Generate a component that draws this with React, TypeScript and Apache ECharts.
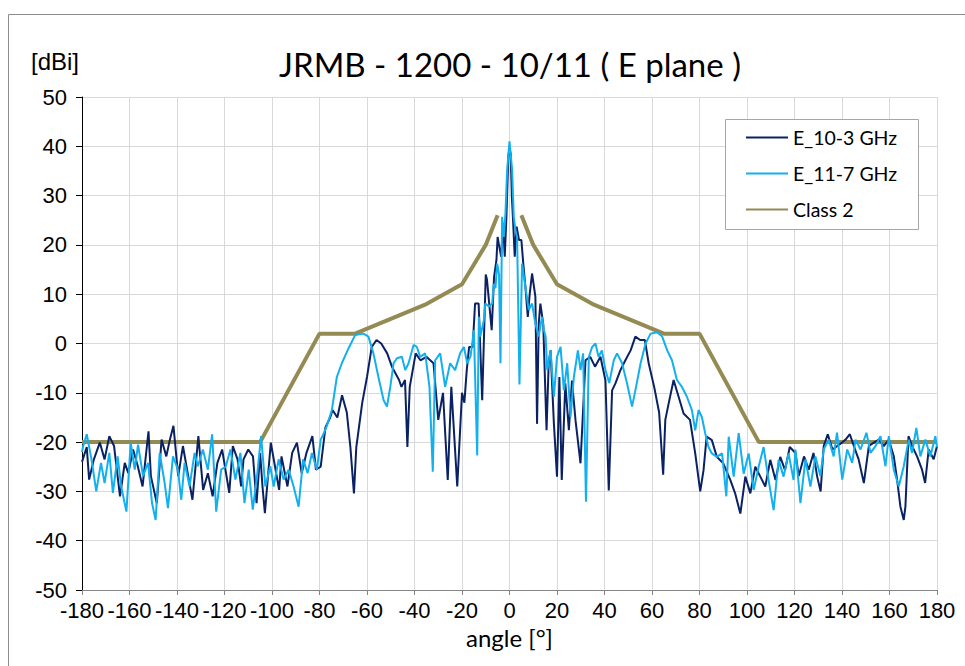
import React, { useEffect, useRef } from "react";
import * as echarts from "echarts";

// Class 2 envelope (angle °, gain dBi)
const class2: [number, number][] = [
  [-180, -20], [-105, -20], [-80, 2], [-65, 2], [-50, 5], [-35, 8], [-20, 12], [-10, 20], [-5, 26],
  [null as any, null as any],
  [5, 26], [10, 20], [20, 12], [35, 8], [50, 5], [65, 2], [80, 2], [105, -20], [180, -20],
];

// E_10-3 GHz measured pattern (angle °, gain dBi)
const e10: [number, number][] = [
  [-180, -24], [-178, -21], [-177, -27.6], [-175, -23.5], [-172.5, -20.1], [-170.5, -23.5], [-168.5, -18.8],
  [-166.5, -20.8], [-164, -31], [-162, -24.2], [-160.5, -26.3], [-158.5, -21.5], [-156.5, -24.9], [-154.5, -29],
  [-152, -17.8], [-151, -26.9], [-148.5, -32.4], [-146.5, -19.5], [-144.5, -22.9], [-143, -19.5], [-141.5, -16.7],
  [-139.5, -26.9], [-137.5, -20.8], [-135.5, -26.3], [-133.5, -31.7], [-131, -18.8], [-129, -29.7], [-127, -26.3],
  [-125, -31], [-123, -24.2], [-121, -21.5], [-118, -30.3], [-116.5, -20.8], [-114.5, -23.5], [-113, -29],
  [-112, -23.5], [-110, -21.5], [-108, -22.9], [-106.5, -32.4], [-105, -22.2], [-104, -29], [-103, -34.4],
  [-100.5, -20.1], [-98.5, -25.6], [-97, -29.7], [-96, -22.9], [-93.5, -29], [-91.5, -22.2], [-89.5, -20.1],
  [-87.5, -26.3], [-85.5, -22.2], [-83, -18.8], [-81.5, -25.6], [-79.5, -25], [-77.5, -17], [-75.5, -15],
  [-74.5, -13.5], [-72.5, -15], [-70.5, -10.5], [-68.5, -14], [-67, -21], [-65.5, -30.4], [-64.5, -21],
  [-62, -12], [-60, -6.8], [-58, -0.7], [-56, 0.7], [-54, 0], [-51.5, -2], [-49.5, -4.7], [-46.5, -7.4],
  [-45.5, -8.8], [-44, -7.4], [-43, -21], [-42, -8.8], [-39.5, -2], [-37.5, -3.4], [-35, -2.7], [-32, -4],
  [-30, -15.5], [-28, -10], [-26, -27.7], [-24.5, -8.8], [-22, -29], [-20, -10], [-19, -12], [-18, -5.4],
  [-17, -0.7], [-15.5, -0.7], [-14.5, 8.1], [-13, 8.1], [-11.5, -11.5], [-10, 14], [-9.5, 13], [-7.5, 2.7],
  [-6.5, 13.5], [-5.5, 16.9], [-5, 21.6], [-4.5, 20.2], [-3.5, 17.6], [-2.7, 24.4], [-2, 17.6], [-1.3, 25.7],
  [-0.5, 38], [0, 39.5], [0.5, 38.5], [1, 29.7], [1.5, 25], [2.2, 17.6], [3, 23.7], [4, 21], [5, 21],
  [5.8, 16.2], [6.7, 11.5], [7.7, 5.4], [8.5, 10], [9.5, 14.2], [10.9, 9.5], [11.6, -16.3], [12.3, 4],
  [13, 8.1], [14.2, 4], [15.6, -17.6], [16.5, -4], [17.3, -1.4], [18.7, -16.3], [20, -27], [21, -6.8],
  [22, -27.7], [23.5, -8.1], [25, -17.6], [26.3, -7.5], [27.8, -15.6], [29.9, -24.3], [32, -3.4], [34, -2.7],
  [36, -4.7], [38.3, -2.7], [40.4, -7.5], [41.8, -29.8], [43.2, -9.5], [44.6, -8.1], [46.7, -5.4], [48.8, -3.4],
  [51, -1.4], [53, 1.4], [55, 0.7], [57, 0.7], [58.6, -4], [61, -9], [63, -14], [64.7, -26.6], [65.6, -15.5],
  [67, -12.2], [69.1, -7.4], [71.2, -10.8], [73.3, -14.2], [76, -15.5], [78.2, -22.3], [80.3, -30], [81.7, -25.7],
  [83, -18.9], [85.2, -19.6], [87.3, -23], [90, -24.3], [93, -27.7], [95, -30.4], [97.2, -34.5], [99.3, -27],
  [101.4, -30.4], [103.5, -25], [105.6, -27], [107.7, -29], [109.8, -23.6], [112, -27.7], [114, -23], [116, -25.7],
  [118, -21], [120.4, -22.2], [121.8, -26.9], [124, -22.9], [126, -25.6], [128, -22.2], [129.5, -26.9], [131, -30],
  [132.3, -20.8], [134, -18.4], [136, -21.5], [138, -20.8], [140, -20.1], [141.5, -19.5], [143.3, -18.4],
  [145, -20.8], [147, -23.5], [149.2, -28.3], [151.3, -20.8], [153.4, -20.1], [155.5, -19.5], [157.6, -20.8],
  [159.7, -19.5], [161.8, -22.9], [163.2, -27.6], [164.6, -33.1], [166, -35.8], [166.7, -33.1], [168, -18.8],
  [169.5, -20.8], [171.6, -22.9], [173.7, -25.6], [175, -28.3], [176.5, -21.5], [178.6, -23.5], [180, -20.8],
];

// E_11-7 GHz measured pattern (angle °, gain dBi)
const e11: [number, number][] = [
  [-180, -22], [-179.5, -20.8], [-178, -18.4], [-176, -23.5], [-174, -30], [-172, -24.2], [-170.5, -28.3],
  [-168.5, -22.2], [-167, -30.3], [-165, -22.9], [-163.5, -29], [-161.3, -34.1], [-159.5, -20.1], [-157.8, -25.6],
  [-156.4, -20.5], [-154.3, -26.9], [-152.2, -24.2], [-150.5, -32.4], [-149, -35.8], [-147.3, -22.2],
  [-145.2, -28.3], [-143.8, -33.4], [-141.7, -22.9], [-139.6, -25.6], [-138.2, -31.7], [-136.8, -24.2],
  [-134.7, -29], [-132.6, -22.2], [-131.2, -24.9], [-129.1, -21.5], [-127, -25.6], [-125.2, -18.4],
  [-123.5, -34.1], [-121.4, -25.6], [-119.5, -25], [-117.5, -21.5], [-115.4, -27.6], [-113.3, -22.2],
  [-111.6, -32.4], [-109.8, -25.6], [-108.1, -33.7], [-106.3, -26.9], [-104.6, -18.8], [-102.8, -29],
  [-100.7, -24.9], [-99.3, -29], [-97.2, -23.5], [-95.1, -27.6], [-93, -25.6], [-90.9, -29], [-88.8, -33.1],
  [-86.9, -23.5], [-85, -26.3], [-83.2, -22.2], [-81.1, -25.6], [-79.5, -19.5], [-78, -18], [-76.9, -16.7],
  [-74.8, -13.5], [-72.7, -6.8], [-70.6, -4], [-67.8, -1], [-65, 1.7], [-61.5, 2], [-59.4, 1.4], [-57.3, -2],
  [-55.2, -6.8], [-53, -11.5], [-51.6, -12.8], [-50.2, -8.8], [-48.8, -4], [-47.4, -3], [-45.3, -2.7],
  [-43.9, -5.4], [-42.5, -4], [-40.4, -0.3], [-39, -0.7], [-37.6, -2.7], [-35.5, -2], [-33.7, -8.8],
  [-32.3, -26], [-31.3, -3.4], [-29.2, -2], [-27.1, -8.8], [-25, -4], [-22.9, -5.4], [-20.8, -2],
  [-19.2, -0.7], [-17.8, -4], [-16.4, -2.6], [-15, 2.7], [-13.6, -22.7], [-12.9, 5.4], [-12.3, 1.4],
  [-10.8, 4.7], [-10.2, 8.1], [-8.7, 7.5], [-7.3, 8.1], [-6.6, 12.1], [-5.9, 11.2], [-5.2, 16.2], [-4.4, 14],
  [-3.8, -4], [-3.1, 25.7], [-2.4, 21.6], [-1.7, 26.4], [-1, 35.2], [0, 41], [1.1, 35.2], [1.8, 25.7],
  [2.5, 23], [3.2, 21.6], [4.2, -8.3], [5.3, 16.2], [6.7, 11.5], [8.1, 6.8], [9.5, 8.1], [10.9, 4],
  [12.3, 1.4], [13.7, 5.4], [14.5, 2.7], [15.2, 1.4], [15.9, -5.4], [17.3, -1.4], [18.7, -10.8], [20, -2.7],
  [21.5, -0.7], [22.9, -9.5], [24.3, -4], [25.7, -14.9], [27.1, -6.8], [28.8, -1.4], [29.9, -5.4], [31, -2],
  [32.2, -32.1], [33.4, -2.7], [34.8, -0.7], [36.2, 0], [37.5, -2.7], [38.9, -1.4], [40.4, -5.4], [42, -8],
  [43.9, -3.4], [45.3, -2], [47.4, -4], [49.5, -8.1], [51.6, -12.8], [53, -9.5], [55.2, -4], [57.3, 0],
  [59.4, 2], [62.2, 2.3], [64.3, 1.4], [66.4, -1.4], [68.4, -3.4], [70.5, -7.4], [72.6, -8.8], [74.7, -10.8],
  [76.8, -13.5], [78.2, -17.6], [79.6, -13.5], [81, -14.9], [82.4, -18.2], [83.8, -21], [85.2, -22.3],
  [87.3, -23], [89.5, -22.3], [91.3, -31], [92.3, -18.9], [94.4, -27], [96.5, -18.2], [98.6, -26.4],
  [100.7, -22.3], [102.8, -29.7], [104.9, -25], [107, -21], [109.1, -27.7], [111.2, -33.8], [113.3, -23.6],
  [115.4, -27], [117.5, -22.3], [119.6, -27.7], [120.4, -21.5], [122.5, -32.4], [124.6, -23.5], [126.7, -29],
  [128.8, -22.9], [130.9, -26.9], [132.3, -21.5], [134.4, -19.5], [136.5, -22.9], [137.9, -18.1],
  [140.1, -27.6], [142.2, -21.5], [144.3, -24.2], [145.7, -19.5], [147.8, -21.5], [150.3, -18.1], [152, -22.2],
  [154.1, -20.8], [156.2, -18.8], [158.3, -24.9], [159.7, -18.8], [161.8, -25.6], [163.9, -29], [166, -24.9],
  [168.1, -19.5], [169.5, -22.2], [171.3, -17.1], [173, -22.9], [175.1, -19.5], [177.2, -22.9], [179.3, -18.8],
  [180, -21],
];

const seriesNames = ["E_10-3 GHz", "E_11-7 GHz", "Class 2"];
const chartTitle = "JRMB - 1200 - 10/11 ( E plane )";
const yUnit = "[dBi]";
const xName = "angle [°]";

export default function App() {
  const ref = useRef<HTMLDivElement>(null);
  useEffect(() => {
    if (!ref.current) return;
    const chart = echarts.init(ref.current, undefined, { renderer: "svg" });
    const sans = "'Liberation Sans', Arial, sans-serif";
    const cal = "Lato, 'Open Sans', sans-serif";
    chart.setOption({
      animation: false,
      backgroundColor: "#ffffff",
      grid: { left: 82, right: 28, top: 97, bottom: 76 },
      graphic: [
        {
          type: "rect",
          shape: { x: 8.5, y: 14.5, width: 980, height: 700 },
          style: { fill: "none", stroke: "#8c8c8c", lineWidth: 1 },
          silent: true,
        },
        {
          type: "text",
          style: { text: chartTitle, x: 510, y: 64, textAlign: "center", textVerticalAlign: "middle", font: `33px ${cal}`, fill: "#000" },
        },
        {
          type: "text",
          style: { text: yUnit, x: 31, y: 61, textAlign: "left", textVerticalAlign: "middle", font: `24px ${sans}`, fill: "#000" },
        },
        {
          type: "rect",
          z: 10,
          shape: { x: 725.5, y: 119.5, width: 193, height: 110 },
          style: { fill: "#ffffff", stroke: "#a6a6a6", lineWidth: 1 },
        },
      ],
      legend: {
        data: seriesNames,
        orient: "vertical",
        left: 745,
        top: 127.5,
        padding: 0,
        itemWidth: 42,
        itemHeight: 14,
        itemGap: 16,
        z: 20,
        itemStyle: { opacity: 0 },
        textStyle: { fontFamily: cal, fontSize: 19.5, color: "#000" },
      },
      xAxis: {
        type: "value",
        min: -180,
        max: 180,
        interval: 20,
        name: xName,
        nameLocation: "middle",
        nameGap: 34,
        nameTextStyle: { fontFamily: cal, fontSize: 24, color: "#000" },
        axisLine: { show: true, onZero: false, lineStyle: { color: "#868686", width: 1 } },
        axisTick: { show: true, length: 5, lineStyle: { color: "#868686" } },
        axisLabel: { fontFamily: sans, fontSize: 22, color: "#000", margin: 9 },
        splitLine: { show: true, lineStyle: { color: "#d9d9d9", width: 1 } },
      },
      yAxis: {
        type: "value",
        min: -50,
        max: 50,
        interval: 10,
        axisLine: { show: true, onZero: false, lineStyle: { color: "#000", width: 1 } },
        axisTick: { show: true, length: 6, lineStyle: { color: "#000" } },
        axisLabel: { fontFamily: sans, fontSize: 22, color: "#000", margin: 15 },
        splitLine: { show: true, lineStyle: { color: "#d9d9d9", width: 1 } },
      },
      series: [
        {
          name: seriesNames[2],
          type: "line",
          data: class2,
          symbol: "none",
          connectNulls: false,
          z: 2,
          lineStyle: { color: "#948a54", width: 4 },
          itemStyle: { color: "#948a54" },
        },
        {
          name: seriesNames[0],
          type: "line",
          data: e10,
          symbol: "none",
          z: 3,
          lineStyle: { color: "#0a2263", width: 2 },
          itemStyle: { color: "#0a2263" },
        },
        {
          name: seriesNames[1],
          type: "line",
          data: e11,
          symbol: "none",
          z: 4,
          lineStyle: { color: "#12b0ee", width: 2 },
          itemStyle: { color: "#12b0ee" },
        },
      ],
    });
    return () => chart.dispose();
  }, []);
  return <div ref={ref} style={{ position: "fixed", left: 0, top: 0, width: 965, height: 666 }} />;
}
